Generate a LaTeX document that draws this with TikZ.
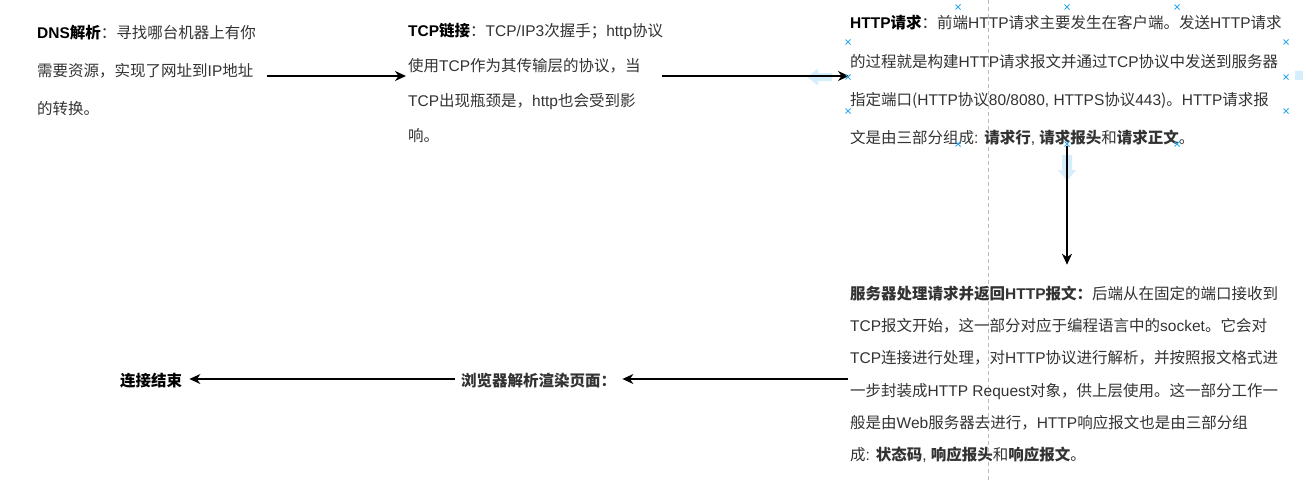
\documentclass[tikz,border=0pt]{standalone}
\usepackage{fontspec}
\setmainfont{Noto Sans CJK SC}
\newfontfamily\latf{Liberation Sans}
\usetikzlibrary{arrows.meta}
\definecolor{txt}{HTML}{333333}
\definecolor{selblue}{HTML}{2FA8EE}
\definecolor{hintblue}{HTML}{D6EEFC}
\definecolor{guide}{HTML}{BBBBBB}
\newcommand{\la}[1]{{\latf #1}}
\newcommand{\hd}[1]{\textcolor{black}{\textbf{#1}}}
\begin{document}
\begin{tikzpicture}[x=1pt,y=-1pt,
  blk/.style={anchor=north west, inner sep=0pt, align=left, text=txt},
  lbl/.style={anchor=base west, inner sep=0pt, font=\fontsize{15.5}{18}\selectfont\bfseries},
  arr/.style={draw=black, line width=1.3pt, -{Stealth[length=11pt,width=10pt,inset=3.5pt]}},
  selx/.pic={\draw[selblue, line width=0.9pt] (-2.5,-2.5)--(2.5,2.5) (-2.5,2.5)--(2.5,-2.5);},
  hint/.style={fill=hintblue, draw=none}
]
\useasboundingbox[fill=white] (0,0) rectangle (1303,480);

% editor guide line
\draw[guide, line width=0.8pt, dash pattern=on 4pt off 3pt] (988,0) -- (988,480);

% text blocks
\node[blk, font=\fontsize{15.5}{38}\selectfont] (dns) at (37,22.5)
 {\rule{0pt}{1em}\hd{\la{DNS}解析}：寻找哪台机器上有你\\
  需要资源，实现了网址到\la{IP}地址\\
  的转换。};

\node[blk, font=\fontsize{15.5}{35}\selectfont] (tcp) at (408,20.5)
 {\rule{0pt}{1em}\hd{\la{TCP}链接}：\la{TCP/IP3}次握手；\la{http}协议\\
  使用\la{TCP}作为其传输层的协议，当\\
  \la{TCP}出现瓶颈是，\la{http}也会受到影\\
  响。};

\node[blk, font=\fontsize{15.5}{38.2}\selectfont] (http) at (850,13.1)
 {\rule{0pt}{1em}\hd{\la{HTTP}请求}：前端\la{HTTP}请求主要发生在客户端。发送\la{HTTP}请求\\
  的过程就是构建\la{HTTP}请求报文并通过\la{TCP}协议中发送到服务器\\
  指定端口(\la{HTTP}协议\la{80/8080, HTTPS}协议\la{443})。\la{HTTP}请求报\\
  文是由三部分组成\la{: }\textbf{请求行}\la{, }\textbf{请求报头}和\textbf{请求正文}。};

\node[blk, font=\fontsize{15.5}{32.2}\selectfont] (server) at (850,283.7)
 {\rule{0pt}{1em}\textbf{服务器处理请求并返回\la{HTTP}报文：}后端从在固定的端口接收到\\
  \la{TCP}报文开始，这一部分对应于编程语言中的\la{socket}。它会对\\
  \la{TCP}连接进行处理，对\la{HTTP}协议进行解析，并按照报文格式进\\
  一步封装成\la{HTTP Request}对象，供上层使用。这一部分工作一\\
  般是由\la{Web}服务器去进行，\la{HTTP}响应报文也是由三部分组\\
  成\la{: }\textbf{状态码}\la{, }\textbf{响应报头}和\textbf{响应报文}。};

\node[lbl, text=txt] (browser) at (461,386) {浏览器解析渲染页面：};
\node[lbl, text=black] (done) at (120,386) {连接结束};

% editor hint arrows (faint)
\fill[hint] (807,77) -- (818,68.5) -- (818,73) -- (832,73) -- (832,81) -- (818,81) -- (818,85.5) -- cycle;
\fill[hint] (1295,71) rectangle (1303,80);
\fill[hint] (1067,181) -- (1058,170) -- (1062,170) -- (1062,155) -- (1072,155) -- (1072,170) -- (1076,170) -- cycle;

% connectors
\coordinate (row1) at (0,76);
\coordinate (col3) at (1067,0);
\coordinate (row2) at (0,379);
\draw[arr] ([xshift=11pt]dns.east |- row1) -- ([xshift=-2pt]tcp.west |- row1);
\draw[arr] ([xshift=-1pt]tcp.east |- row1) -- ([xshift=-1pt]http.west |- row1);
\draw[arr] (http.south -| col3) -- ([yshift=19pt]server.north -| col3);
\draw[arr] ([xshift=-2pt]server.west |- row2) -- ([xshift=6pt]browser.east |- row2);
\draw[arr] ([xshift=-6pt]browser.west |- row2) -- ([xshift=7pt]done.east |- row2);

% selection handles
\foreach \p in {(958,7),(1067,7),(1177,7),(848,42),(1286,42),(848,77),(1286,77),(848,111),(1286,111),(958,144),(1067,144),(1177,144)}
  \pic at \p {selx};
\end{tikzpicture}
\end{document}
